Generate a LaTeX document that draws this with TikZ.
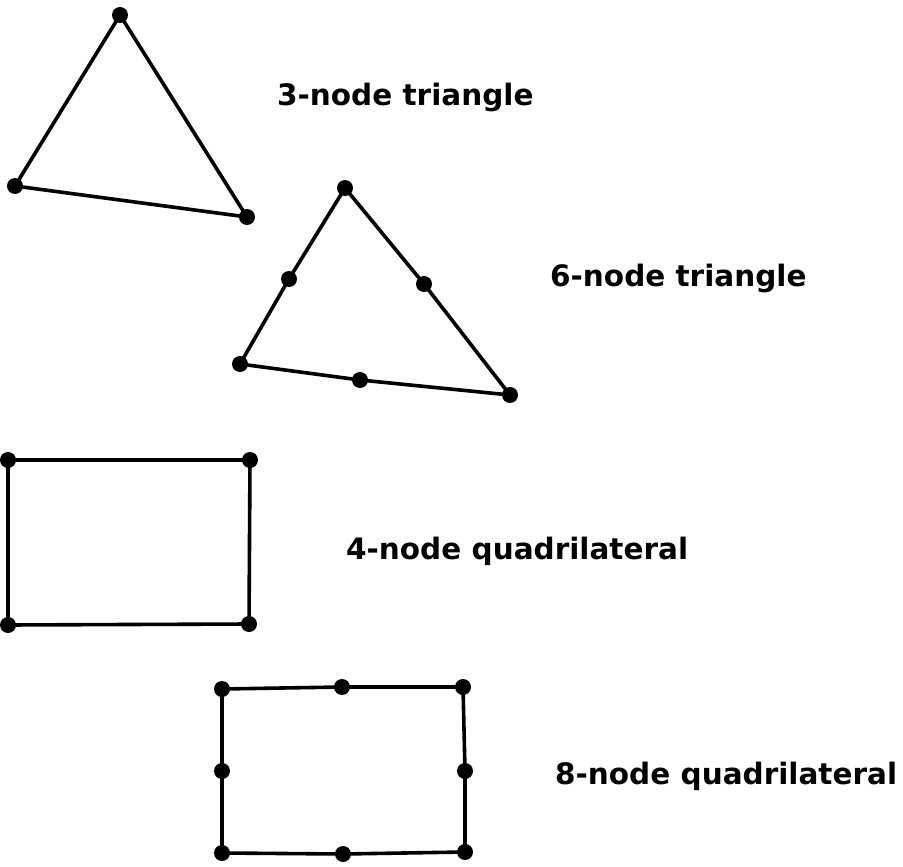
\documentclass[tikz,border=0pt]{standalone}
\usepackage{fontspec}
\setmainfont{DejaVu Sans}
\begin{document}
\begin{tikzpicture}[x=1pt,y=-1pt,
  dot/.style={circle,fill=black,inner sep=0pt,minimum size=16pt},
  edge/.style={line width=3.6pt,line join=round},
  lab/.style={anchor=base west,inner sep=0pt,font=\fontsize{29.5}{31}\selectfont\bfseries}]
\useasboundingbox (0,0) rectangle (903,867);
% 3-node triangle
\node[dot] (a1) at (120,15) {};
\node[dot] (a2) at (15,186) {};
\node[dot] (a3) at (247,217) {};
\draw[edge] (a1.center) -- (a2.center) -- (a3.center) -- cycle;
% 6-node triangle
\node[dot] (b1) at (345,188) {};
\node[dot] (b2) at (240,364) {};
\node[dot] (b3) at (510,395) {};
\node[dot] (b4) at (289,279) {};
\node[dot] (b5) at (424,284) {};
\node[dot] (b6) at (360,380) {};
\draw[edge] (b1.center) -- (b4.center) -- (b2.center) -- (b6.center) -- (b3.center) -- (b5.center) -- cycle;
% 4-node quadrilateral
\node[dot] (c1) at (8,460) {};
\node[dot] (c2) at (250,460) {};
\node[dot] (c3) at (249,624) {};
\node[dot] (c4) at (8,625) {};
\draw[edge] (c1.center) -- (c2.center) -- (c3.center) -- (c4.center) -- cycle;
% 8-node quadrilateral
\node[dot] (d1) at (222,689) {};
\node[dot] (d2) at (342,687) {};
\node[dot] (d3) at (463,687) {};
\node[dot] (d4) at (465,771) {};
\node[dot] (d5) at (465,852) {};
\node[dot] (d6) at (343,854) {};
\node[dot] (d7) at (222,853) {};
\node[dot] (d8) at (222,771) {};
\draw[edge] (d1.center) -- (d2.center) -- (d3.center) -- (d4.center) -- (d5.center) -- (d6.center) -- (d7.center) -- (d8.center) -- cycle;
% labels
\node[lab] (t1) at (277,106) {3-node triangle};
\node[lab] (t2) at (550,286) {6-node triangle};
\node[lab] (t3) at (346,559) {4-node quadrilateral};
\node[lab] (t4) at (555,784) {8-node quadrilateral};
\end{tikzpicture}
\end{document}
